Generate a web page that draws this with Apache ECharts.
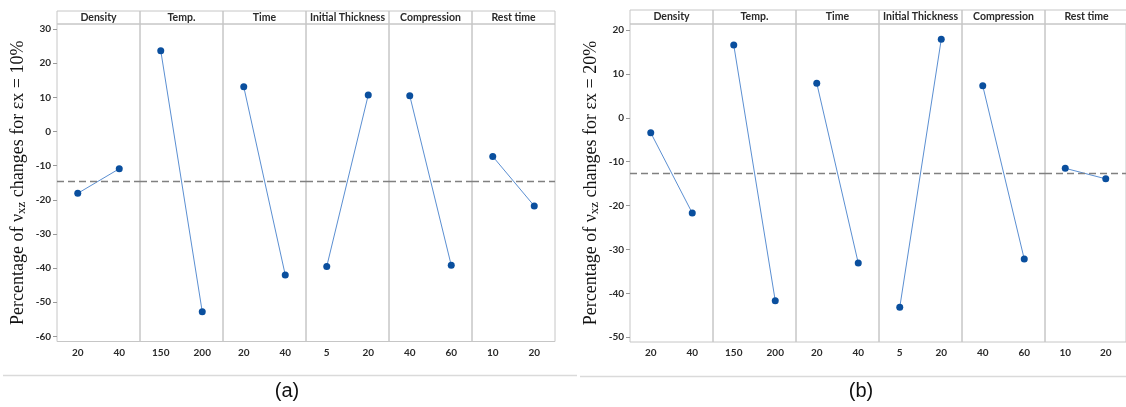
<!DOCTYPE html>
<html>
<head>
<meta charset="utf-8">
<script src="https://cdn.jsdelivr.net/npm/echarts@6/dist/echarts.min.js"></script>
<style>
  html, body { margin: 0; padding: 0; background: #fff; }
  #chart { width: 1126px; height: 407px; }
</style>
</head>
<body>
<div id="chart"></div>
<script>
// factor names and their two levels (same for both plots)
const FACTORS = ['Density', 'Temp.', 'Time', 'Initial Thickness', 'Compression', 'Rest time']
const LEVELS = [['20', '40'], ['150', '200'], ['20', '40'], ['5', '20'], ['40', '60'], ['10', '20']]

// (a) εx = 10%
const VALUES_A = [[-18.1, -10.9], [23.7, -52.8], [13.1, -42.0], [-39.5, 10.7], [10.5, -39.2], [-7.3, -21.8]]
const TICKS_A = [-60, -50, -40, -30, -20, -10, 0, 10, 20, 30]

// (b) εx = 20%
const VALUES_B = [[-3.4, -21.7], [16.6, -41.7], [7.9, -33.1], [-43.2, 17.9], [7.3, -32.2], [-11.5, -13.9]]
const TICKS_B = [-50, -40, -30, -20, -10, 0, 10, 20]

const BORDER = '#c6c6c6'
const LINE_COLOR = '#5b8fd2'
const DOT_COLOR = '#0a4f9e'
const TEXT_COLOR = '#2a2a2a'

const grid = []
const xAxis = []
const yAxis = []
const series = []
const graphic = []

/**
 * Adds one main-effects plot (six panels) to the option arrays.
 */
const addPlot = (cfg) => {
  const all = cfg.values.flat()
  const mean = all.reduce((s, v) => s + v, 0) / all.length
  cfg.values.forEach((vals, i) => {
    const k = grid.length
    const left = cfg.left + i * cfg.width
    grid.push({
      left, top: cfg.top, width: cfg.width, height: cfg.bottom - cfg.top,
      show: true, borderColor: BORDER, borderWidth: 1, backgroundColor: 'transparent'
    })
    xAxis.push({
      gridIndex: k, type: 'category', data: LEVELS[i],
      axisLine: { show: false },
      axisTick: { alignWithLabel: true, length: 4, lineStyle: { color: '#999' } },
      axisLabel: { fontFamily: 'Lato', fontWeight: 'bold', fontSize: 10, color: TEXT_COLOR, margin: 6 }
    })
    const first = i === 0
    yAxis.push({
      gridIndex: k, type: 'value', min: cfg.min, max: cfg.max,
      axisLine: { show: false },
      splitLine: { show: false },
      axisTick: { show: first, customValues: cfg.ticks, length: 4, lineStyle: { color: '#999' } },
      axisLabel: { show: first, customValues: cfg.ticks, fontFamily: 'Lato', fontWeight: 'bold', fontSize: 10, color: TEXT_COLOR, margin: 6 },
      name: first ? '{a|Percentage of ν}{s|xz}{a| changes for εx = ' + cfg.pct + '}' : '',
      nameLocation: 'middle',
      nameGap: 28,
      nameTextStyle: {
        rich: {
          a: { fontFamily: 'Liberation Serif', fontSize: 18, color: '#111', lineHeight: 22 },
          s: { fontFamily: 'Liberation Serif', fontSize: 13, color: '#111', lineHeight: 22, padding: [8, 0, 0, 0] }
        }
      }
    })
    series.push({
      type: 'line', xAxisIndex: k, yAxisIndex: k, data: vals,
      symbol: 'circle', symbolSize: 7,
      lineStyle: { color: LINE_COLOR, width: 1 },
      itemStyle: { color: DOT_COLOR },
      markLine: {
        silent: true, symbol: 'none', label: { show: false },
        lineStyle: { type: [7, 4], color: '#808080', width: 1.3 },
        data: [{ yAxis: mean }]
      }
    })
    // header box with the factor name
    graphic.push({
      type: 'rect',
      shape: { x: left, y: cfg.headerTop, width: cfg.width, height: cfg.top - cfg.headerTop },
      style: { fill: 'none', stroke: BORDER, lineWidth: 1 }
    })
    graphic.push({
      type: 'text',
      x: left + cfg.width / 2, y: (cfg.headerTop + cfg.top) / 2,
      style: {
        text: FACTORS[i], align: 'center', verticalAlign: 'middle',
        font: 'bold 10.5px Lato', fill: TEXT_COLOR
      }
    })
  })
  graphic.push({
    type: 'line',
    shape: { x1: cfg.sepX1, y1: cfg.sepY, x2: cfg.sepX2, y2: cfg.sepY },
    style: { stroke: '#dadada', lineWidth: 1.5 }
  })
  graphic.push({
    type: 'text', x: cfg.labelX, y: cfg.labelY,
    style: { text: cfg.label, align: 'center', verticalAlign: 'middle', font: '20px "Liberation Sans"', fill: '#111' }
  })
}

addPlot({
  values: VALUES_A, ticks: TICKS_A, min: -61.5, max: 31.5, pct: '10%',
  left: 57, width: 83, top: 24, bottom: 341.5, headerTop: 11,
  sepX1: 3, sepX2: 577, sepY: 375.5, label: '(a)', labelX: 287, labelY: 391
})
addPlot({
  values: VALUES_B, ticks: TICKS_B, min: -51.1, max: 21.4, pct: '20%',
  left: 630, width: 83, top: 24, bottom: 342, headerTop: 10,
  sepX1: 580, sepX2: 1126, sepY: 376.5, label: '(b)', labelX: 861, labelY: 391
})

const chart = echarts.init(document.getElementById('chart'))
chart.setOption({
  animation: false,
  backgroundColor: '#fff',
  grid, xAxis, yAxis, series, graphic
})
</script>
</body>
</html>
